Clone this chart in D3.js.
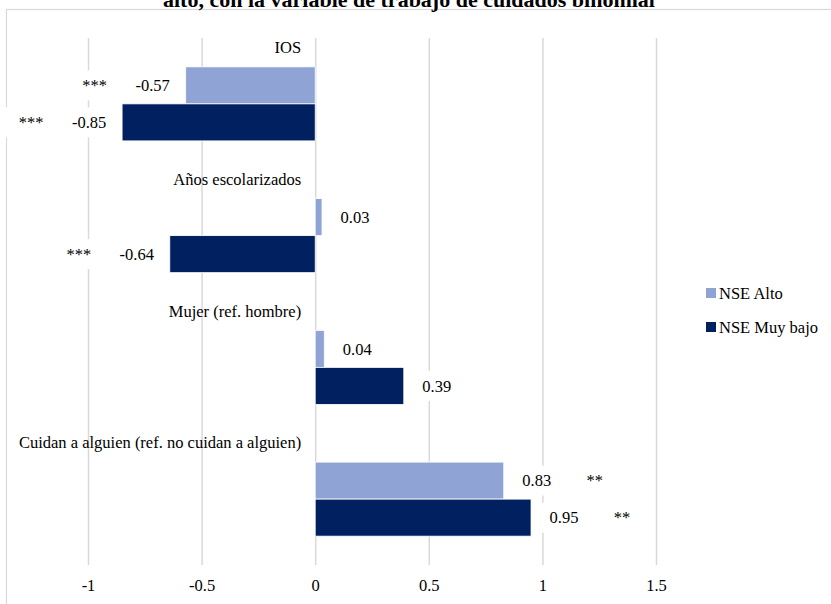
<!DOCTYPE html>
<html>
<head>
<meta charset="utf-8">
<script src="https://cdn.jsdelivr.net/npm/d3@7"></script>
<style>
  html, body { margin: 0; padding: 0; background: #fff; }
  svg { display: block; font-family: "Liberation Serif", "DejaVu Serif", serif; }
</style>
</head>
<body>
<svg id="chart" width="831" height="604"></svg>
<script>
// Coefficients by NSE group
const categories = [
  "IOS",
  "Años escolarizados",
  "Mujer (ref. hombre)",
  "Cuidan a alguien (ref. no cuidan a alguien)"
];
const seriesNames = ["NSE Alto", "NSE Muy bajo"];
const nseAlto = [-0.57, 0.03, 0.04, 0.83];
const nseMuyBajo = [-0.85, -0.64, 0.39, 0.95];
const sigAlto = ["***", "", "", "**"];
const sigMuyBajo = ["***", "***", "", "**"];
const tickValues = [-1, -0.5, 0, 0.5, 1, 1.5];
const colors = ["#8FA4D4", "#002060"];
const titleText = "alto, con la variable de trabajo de cuidados binomial";

const svg = d3.select("#chart");
const W = 831, H = 604;
const plot = { left: 88, right: 656, top: 38, bottom: 565 };
const fs = 16.5;

// outer chart frame (runs past the page edges)
svg.append("rect")
  .attr("x", 6.5).attr("y", 9.5)
  .attr("width", W + 20).attr("height", H + 20)
  .attr("fill", "#fff").attr("stroke", "#d9d9d9").attr("stroke-width", 1.2);

svg.append("text")
  .attr("x", 409).attr("y", 6.5)
  .attr("text-anchor", "middle")
  .attr("font-weight", "bold")
  .attr("font-size", 22)
  .attr("fill", "#000")
  .text(titleText);

const x = d3.scaleLinear().domain([-1, 1.5]).range([plot.left, plot.right]);
const y = d3.scaleBand().domain(categories)
  .range([plot.top, plot.bottom])
  .paddingInner(0.438).paddingOuter(0.219);
const yInner = d3.scaleBand().domain(seriesNames).range([0, y.bandwidth()]);

// vertical gridlines
svg.append("g")
  .attr("transform", `translate(0,${plot.bottom})`)
  .call(d3.axisBottom(x).tickValues(tickValues).tickSize(-(plot.bottom - plot.top)).tickFormat(""))
  .call(g => g.select(".domain").remove())
  .call(g => g.selectAll("line").attr("stroke", "#d9d9d9").attr("stroke-width", 1.5));

// x tick labels
svg.append("g")
  .attr("transform", `translate(0,${plot.bottom})`)
  .call(d3.axisBottom(x).tickValues(tickValues).tickSize(0).tickPadding(14)
    .tickFormat(d => String(d)))
  .call(g => g.select(".domain").remove())
  .call(g => g.selectAll("text")
    .attr("font-family", "Liberation Serif, serif")
    .attr("font-size", fs).attr("fill", "#000"));

// rows of data
const rows = categories.map((c, i) => ({
  cat: c,
  vals: [
    { s: seriesNames[0], v: nseAlto[i], sig: sigAlto[i], color: colors[0] },
    { s: seriesNames[1], v: nseMuyBajo[i], sig: sigMuyBajo[i], color: colors[1] }
  ]
}));

const groups = svg.append("g").selectAll("g.cat")
  .data(rows).join("g")
  .attr("class", "cat")
  .attr("transform", d => `translate(0,${y(d.cat)})`);

groups.selectAll("rect.bar")
  .data(d => d.vals).join("rect")
  .attr("class", "bar")
  .attr("x", d => x(Math.min(0, d.v)))
  .attr("width", d => Math.abs(x(d.v) - x(0)))
  .attr("y", d => yInner(d.s))
  .attr("height", yInner.bandwidth())
  .attr("fill", d => d.color)
  .attr("stroke", "#fff").attr("stroke-width", 0.8);

// category labels above each group
svg.append("g").selectAll("text")
  .data(categories).join("text")
  .attr("x", x(0) - 14)
  .attr("y", d => y(d) - y.step() * y.paddingInner() / 2 + 15)
  .attr("text-anchor", "end")
  .attr("font-size", fs)
  .attr("fill", "#000")
  .text(d => d);

// value labels with significance stars on white boxes
const labelGap = 33, starGap = 58, boxPad = 30, boxH = 30;
groups.each(function (row) {
  const g = d3.select(this);
  row.vals.forEach(d => {
    const dir = d.v < 0 ? -1 : 1;
    const cy = yInner(d.s) + yInner.bandwidth() / 2;
    const vx = x(d.v) + dir * labelGap;
    const sx = vx + dir * starGap;
    const near = vx - dir * 22;
    const far = d.sig ? sx + dir * boxPad : vx + dir * 22;
    g.append("rect")
      .attr("x", Math.min(near, far)).attr("width", Math.abs(far - near))
      .attr("y", cy - boxH / 2).attr("height", boxH)
      .attr("fill", "#fff");
    g.append("text")
      .attr("x", vx).attr("y", cy).attr("dy", "0.35em")
      .attr("text-anchor", "middle").attr("font-size", fs).attr("fill", "#000")
      .text(d.v.toFixed(2));
    if (d.sig) {
      g.append("text")
        .attr("x", sx).attr("y", cy).attr("dy", "0.35em")
        .attr("text-anchor", "middle").attr("font-size", fs).attr("fill", "#000")
        .text(d.sig);
    }
  });
});

// legend
const legend = svg.append("g").attr("transform", "translate(706,0)");
seriesNames.forEach((s, i) => {
  const ly = 293 + i * 34;
  legend.append("rect").attr("x", 0).attr("y", ly - 5).attr("width", 10).attr("height", 10)
    .attr("fill", colors[i]);
  legend.append("text").attr("x", 13).attr("y", ly).attr("dy", "0.35em")
    .attr("font-size", fs).attr("fill", "#000").text(s);
});
</script>
</body>
</html>
